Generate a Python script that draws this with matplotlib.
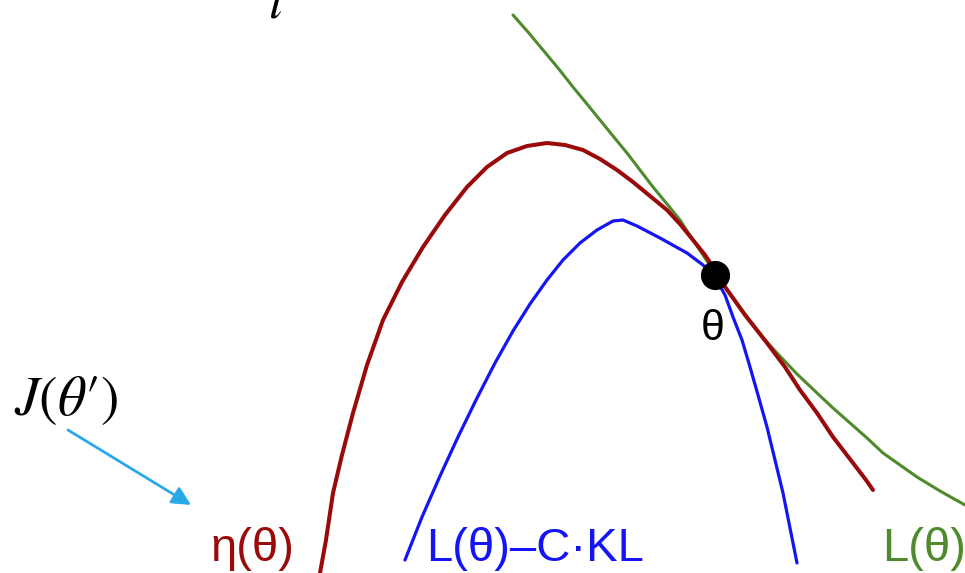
import numpy as np
import matplotlib
matplotlib.use("Agg")
from matplotlib import pyplot as plt

# curve samples, in pixel units of the canvas (x right, y down)
eta_x = [320, 326, 333, 342, 353, 367, 383, 402, 423, 445, 467, 487, 507, 527, 547, 565, 583, 600, 617, 633, 650, 667, 680, 693, 705, 715, 723, 745, 767, 785, 800, 817, 833, 853, 866, 873]
eta_y = [573, 540, 493, 455, 413, 365, 320, 282, 247, 215, 187, 167, 153, 146, 143, 145, 150, 159, 170, 182, 196, 210, 224, 240, 255, 270, 284, 315, 343, 367, 390, 413, 437, 463, 480, 490]

lkl_x = [405, 422, 440, 458, 476, 495, 513, 530, 547, 563, 580, 597, 613, 623, 637, 660, 687, 703, 715, 725, 733, 742, 750, 758, 767, 775, 783, 790, 797]
lkl_y = [560, 517, 476, 437, 400, 363, 331, 304, 280, 260, 243, 230, 221, 220, 226, 238, 253, 265, 277, 295, 317, 340, 367, 395, 427, 460, 493, 528, 563]

L_x = [513, 528, 543, 558, 573, 587, 600, 613, 627, 640, 653, 667, 680, 693, 707, 715, 725, 745, 765, 777, 797, 817, 833, 850, 867, 883, 900, 917, 940, 965]
L_y = [15, 32, 50, 68, 87, 104, 120, 136, 153, 170, 187, 204, 220, 240, 261, 274, 287, 314, 340, 353, 374, 393, 408, 423, 438, 453, 465, 477, 491, 505]

theta0 = (715, 275)

plt.rcParams['mathtext.fontset'] = 'stix'

fig = plt.figure(figsize=(9.65, 5.73), dpi=100)
ax = fig.add_axes([0, 0, 1, 1])
ax.set_xlim(0, 965)
ax.set_ylim(573, 0)
ax.axis('off')

ax.plot(L_x, L_y, color='#4f8b2c', lw=2.2, solid_capstyle='round', solid_joinstyle='round')
ax.plot(lkl_x, lkl_y, color='#1414f5', lw=2.3, solid_capstyle='round', solid_joinstyle='round')
ax.plot(eta_x, eta_y, color='#9a0a0a', lw=2.9, solid_capstyle='round', solid_joinstyle='round')
ax.plot(theta0[0], theta0[1], 'o', color='black', markersize=20)

sans = 'Liberation Sans'
ax.text(211, 561, 'η(θ)', color='#9a0a0a', fontsize=34, family=sans, va='baseline')
ax.text(426, 561, 'L(θ)–C·KL', color='#1414f5', fontsize=34, family=sans, va='baseline')
ax.text(882, 561, 'L(θ)', color='#4f8b2c', fontsize=34, family=sans, va='baseline')
ax.text(713, 329, 'θ', color='black', fontsize=31, family=sans, ha='center', va='center')

ax.text(14, 415, r"$J(\theta\prime)$", color='black', fontsize=40, va='baseline')
ax.text(268, 17, r"$t$", color='black', fontsize=38, va='baseline')

ax.annotate('', xy=(191, 505), xytext=(68, 430),
            arrowprops=dict(arrowstyle='-|>', color='#2aa9ea', lw=2.0, mutation_scale=28, shrinkA=0, shrinkB=0))

fig.savefig('out.png', dpi=100)
